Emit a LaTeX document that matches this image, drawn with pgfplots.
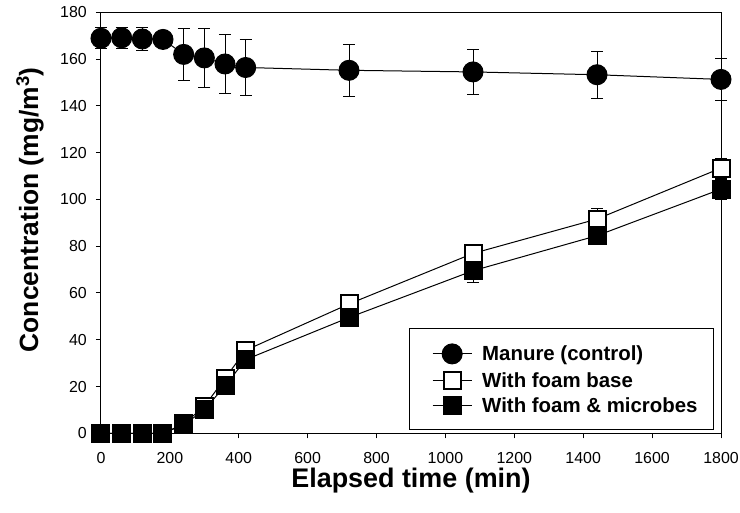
\documentclass[border=0pt]{standalone}
\usepackage{fontspec}
\setmainfont{Liberation Sans}
\usepackage{pgfplots}
\usepackage{pgfplotstable}
\pgfplotsset{compat=1.18}

% time (min), mean, error
\pgfplotstableread{
t     y      e
0     168.9  4.5
60    169.1  4.5
120   168.6  5.0
180   168.4  2.0
240   162.0  11.0
300   160.5  12.5
360   157.9  12.5
420   156.4  12.0
720   155.2  11.0
1080  154.5  9.5
1440  153.3  10.0
1800  151.3  9.0
}\manure

\pgfplotstableread{
t     y      e
0     0      0.5
60    0      0.5
120   0      0.5
180   0      0.5
240   4.0    1.0
300   11.5   1.5
360   23.5   1.5
420   35.5   1.5
720   55.3   1.5
1080  76.9   2.0
1440  91.6   4.3
1800  113.4  4.3
}\foam

\pgfplotstableread{
t     y      e
0     0      0.5
60    0      0.5
120   0      0.5
180   0      0.5
240   3.6    1.0
300   10.0   1.5
360   20.3   1.5
420   31.5   1.5
720   49.5   1.5
1080  69.5   5.0
1440  84.5   2.0
1800  104.4  4.3
}\microbes

\begin{document}
\begin{tikzpicture}
\useasboundingbox (-101bp,-79.7bp) rectangle (639bp,433.3bp);
\begin{axis}[
  scale only axis,
  width=620bp, height=421bp,
  xmin=0, xmax=1800, ymin=0, ymax=180,
  xtick={0,200,...,1800},
  ytick={0,20,...,180},
  tick align=outside,
  xtick pos=bottom, ytick pos=left,
  major tick length=5bp,
  tick style={black, line width=1bp},
  axis line style={line width=1bp},
  clip=false,
  /pgf/number format/assume math mode=true,
  /pgf/number format/1000 sep={},
  tick label style={font=\fontsize{16}{19}\selectfont, inner sep=0pt},
  xticklabel style={anchor=north, yshift=-14bp},
  yticklabel style={anchor=east, xshift=-9bp},
  xlabel={\textbf{Elapsed time (min)}},
  ylabel={\textbf{Concentration (mg/m\textsuperscript{3})}},
  every axis x label/.style={at={(axis description cs:0.5,0)}, anchor=base, yshift=-54bp, font=\fontsize{27}{32}\selectfont},
  every axis y label/.style={at={(axis description cs:-0.1016,0.531)}, anchor=base, rotate=90, font=\fontsize{26.5}{31}\selectfont},
  legend style={at={(rel axis cs:1,0)}, anchor=south east, xshift=-7bp, yshift=4bp,
    draw=black, line width=0.8bp, font=\fontsize{20.5}{24}\selectfont\bfseries,
    inner xsep=16bp, inner ysep=15bp, row sep=8bp, column sep=10bp,
    nodes={inner sep=0pt}, cells={anchor=west}},
  legend image code/.code={\path (0bp,0bp); \draw[mark repeat=2, mark phase=2] plot coordinates {(7bp,0bp) (26.5bp,0bp) (46bp,0bp)};},
  error bars/error bar style={line width=1bp, black},
  error bars/error mark options={rotate=90, mark size=6bp, line width=1bp, black},
]
\addplot[black, line width=1bp, mark=*, mark size=10bp, mark options={fill=black},
  error bars/.cd, y dir=both, y explicit]
  table[x=t, y=y, y error=e] {\manure};
\addlegendentry{Manure (control)}
\addplot[black, line width=1bp, mark=square*, mark size=8.5bp, mark options={fill=white, line width=2bp},
  error bars/.cd, y dir=both, y explicit]
  table[x=t, y=y, y error=e] {\foam};
\addlegendentry{With foam base}
\addplot[black, line width=1bp, mark=square*, mark size=8.5bp, mark options={fill=black, line width=2bp},
  error bars/.cd, y dir=both, y explicit]
  table[x=t, y=y, y error=e] {\microbes};
\addlegendentry{With foam \& microbes}
\end{axis}
\end{tikzpicture}
\end{document}
